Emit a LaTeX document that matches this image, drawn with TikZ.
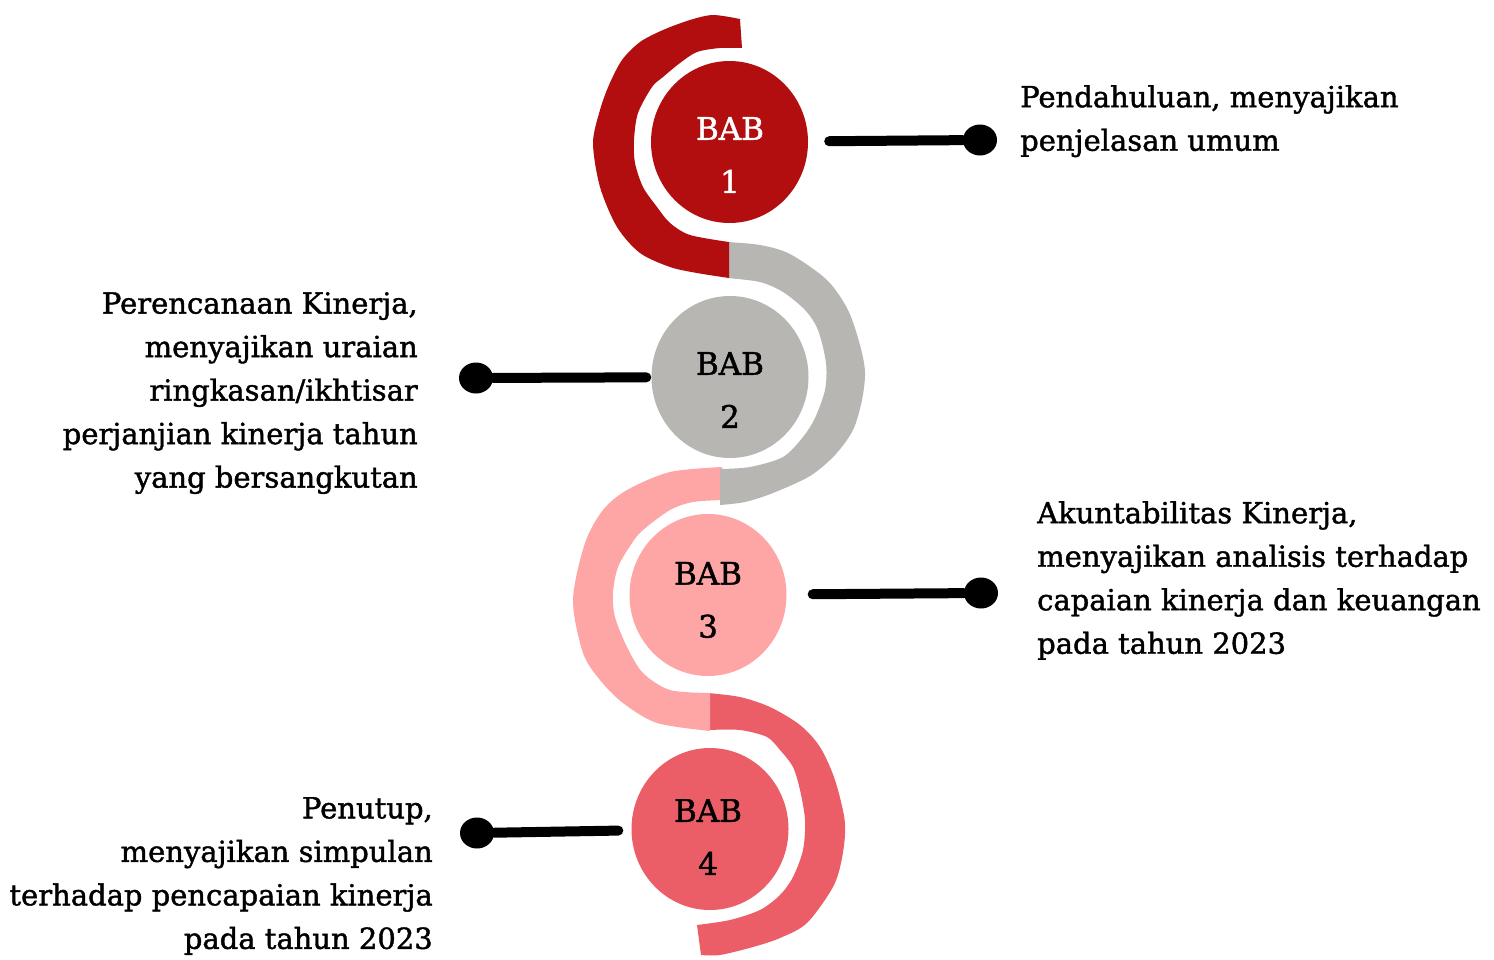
\documentclass[tikz,border=0pt]{standalone}
\usepackage{fontspec}
\setmainfont{DejaVu Serif}[FakeBold=1.4]
\usepackage{tikz}
\usetikzlibrary{shapes.geometric, positioning}
\definecolor{babred}{HTML}{B20E10}
\definecolor{babgray}{HTML}{B7B6B2}
\definecolor{babpink}{HTML}{FEA6A6}
\definecolor{babcoral}{HTML}{EB5E68}

\begin{document}
\begin{tikzpicture}[x=1pt, y=-1pt,
  disc/.style={ellipse, inner sep=0pt, minimum width=157pt, minimum height=162pt},
  babtext/.style={align=center, inner sep=0pt, font=\fontsize{31}{53}\selectfont},
  knob/.style={ellipse, fill=black, inner sep=0pt, minimum width=34pt, minimum height=31pt},
  link/.style={line width=10pt, line cap=round},
  desc/.style={inner sep=0pt, font=\fontsize{29}{43.5}\selectfont}]
  \useasboundingbox (0,0) rectangle (1494,959);
  % rings, bottom one first so each end lies on the next
  \fill[babcoral] plot[smooth] coordinates {(708,693) (740,697) (770,707) (800,725) (820,747) (835,780) (845,823) (842,858) (833,887) (807,923) (780,938) (753,947) (720,955) (701,955)}
    -- plot[smooth] coordinates {(697,925) (730,920) (760,910) (780,895) (793,877) (803,850) (805,820) (800,790) (793,767) (780,750) (767,737) (740,730) (708,730)} -- cycle;
  \fill[babpink] plot[smooth] coordinates {(722,467) (670,472) (627,490) (603,510) (585,543) (573,600) (583,653) (600,680) (623,703) (657,723) (710,731)}
    -- plot[smooth] coordinates {(710,693) (670,690) (643,673) (627,647) (615,617) (613,593) (618,567) (632,543) (643,530) (670,510) (693,502) (722,500)} -- cycle;
  \fill[babgray] plot[smooth] coordinates {(727,242) (760,245) (790,254) (827,280) (848,310) (860,345) (865,372) (862,400) (853,430) (835,455) (810,476) (773,493) (745,502) (720,505)}
    -- plot[smooth] coordinates {(720,469) (750,467) (783,457) (803,437) (815,418) (825,390) (826,363) (818,330) (805,310) (783,292) (760,282) (727,278)} -- cycle;
  \fill[babred] plot[smooth] coordinates {(740,19) (713,15) (690,20) (663,30) (640,42) (622,60) (609,85) (600,110) (593,143) (600,187) (617,227) (640,253) (670,267) (697,273) (729,278)}
    -- plot[smooth] coordinates {(729,242) (690,235) (670,223) (657,207) (643,187) (635,163) (634,140) (638,113) (652,87) (663,77) (680,63) (697,52) (720,48) (742,48)} -- cycle;

  \node[disc, fill=babred] (bab1) at (729.5,142) {};
  \node[disc, fill=babgray] (bab2) at (730,377) {};
  \node[disc, fill=babpink] (bab3) at (708,595) {};
  \node[disc, fill=babcoral] (bab4) at (710,829) {};
  \node[babtext, text=white] (lbl1) at (730,155) {BAB\\1};
  \node[babtext] (lbl2) at (730,390) {BAB\\2};
  \node[babtext] (lbl3) at (708,600) {BAB\\3};
  \node[babtext] (lbl4) at (708,837) {BAB\\4};

  \node[knob] (dot1) at (980,140) {};
  \node[knob] (dot2) at (476,378) {};
  \node[knob] (dot3) at (981,593) {};
  \node[knob] (dot4) at (477,833) {};
  \draw[link, shorten <=21pt] (bab1) -- (dot1);
  \draw[link, shorten <=5pt] (bab2) -- (dot2);
  \draw[link, shorten <=26pt] (bab3) -- (dot3);
  \draw[link, shorten <=13pt] (bab4) -- (dot4);

  \node[desc, anchor=north west, align=left] (txt1) at (1020,85) {Pendahuluan, menyajikan\\penjelasan umum};
  \node[desc, anchor=north east, align=right] (txt2) at (418,292) {Perencanaan Kinerja,\\menyajikan uraian\\ringkasan/ikhtisar\\perjanjian kinerja tahun\\yang bersangkutan};
  \node[desc, anchor=north west, align=left] (txt3) at (1037,501) {Akuntabilitas Kinerja,\\menyajikan analisis terhadap\\capaian kinerja dan keuangan\\pada tahun 2023};
  \node[desc, anchor=north east, align=right] (txt4) at (433,797) {Penutup,\\menyajikan simpulan\\terhadap pencapaian kinerja\\pada tahun 2023};
\end{tikzpicture}
\end{document}
